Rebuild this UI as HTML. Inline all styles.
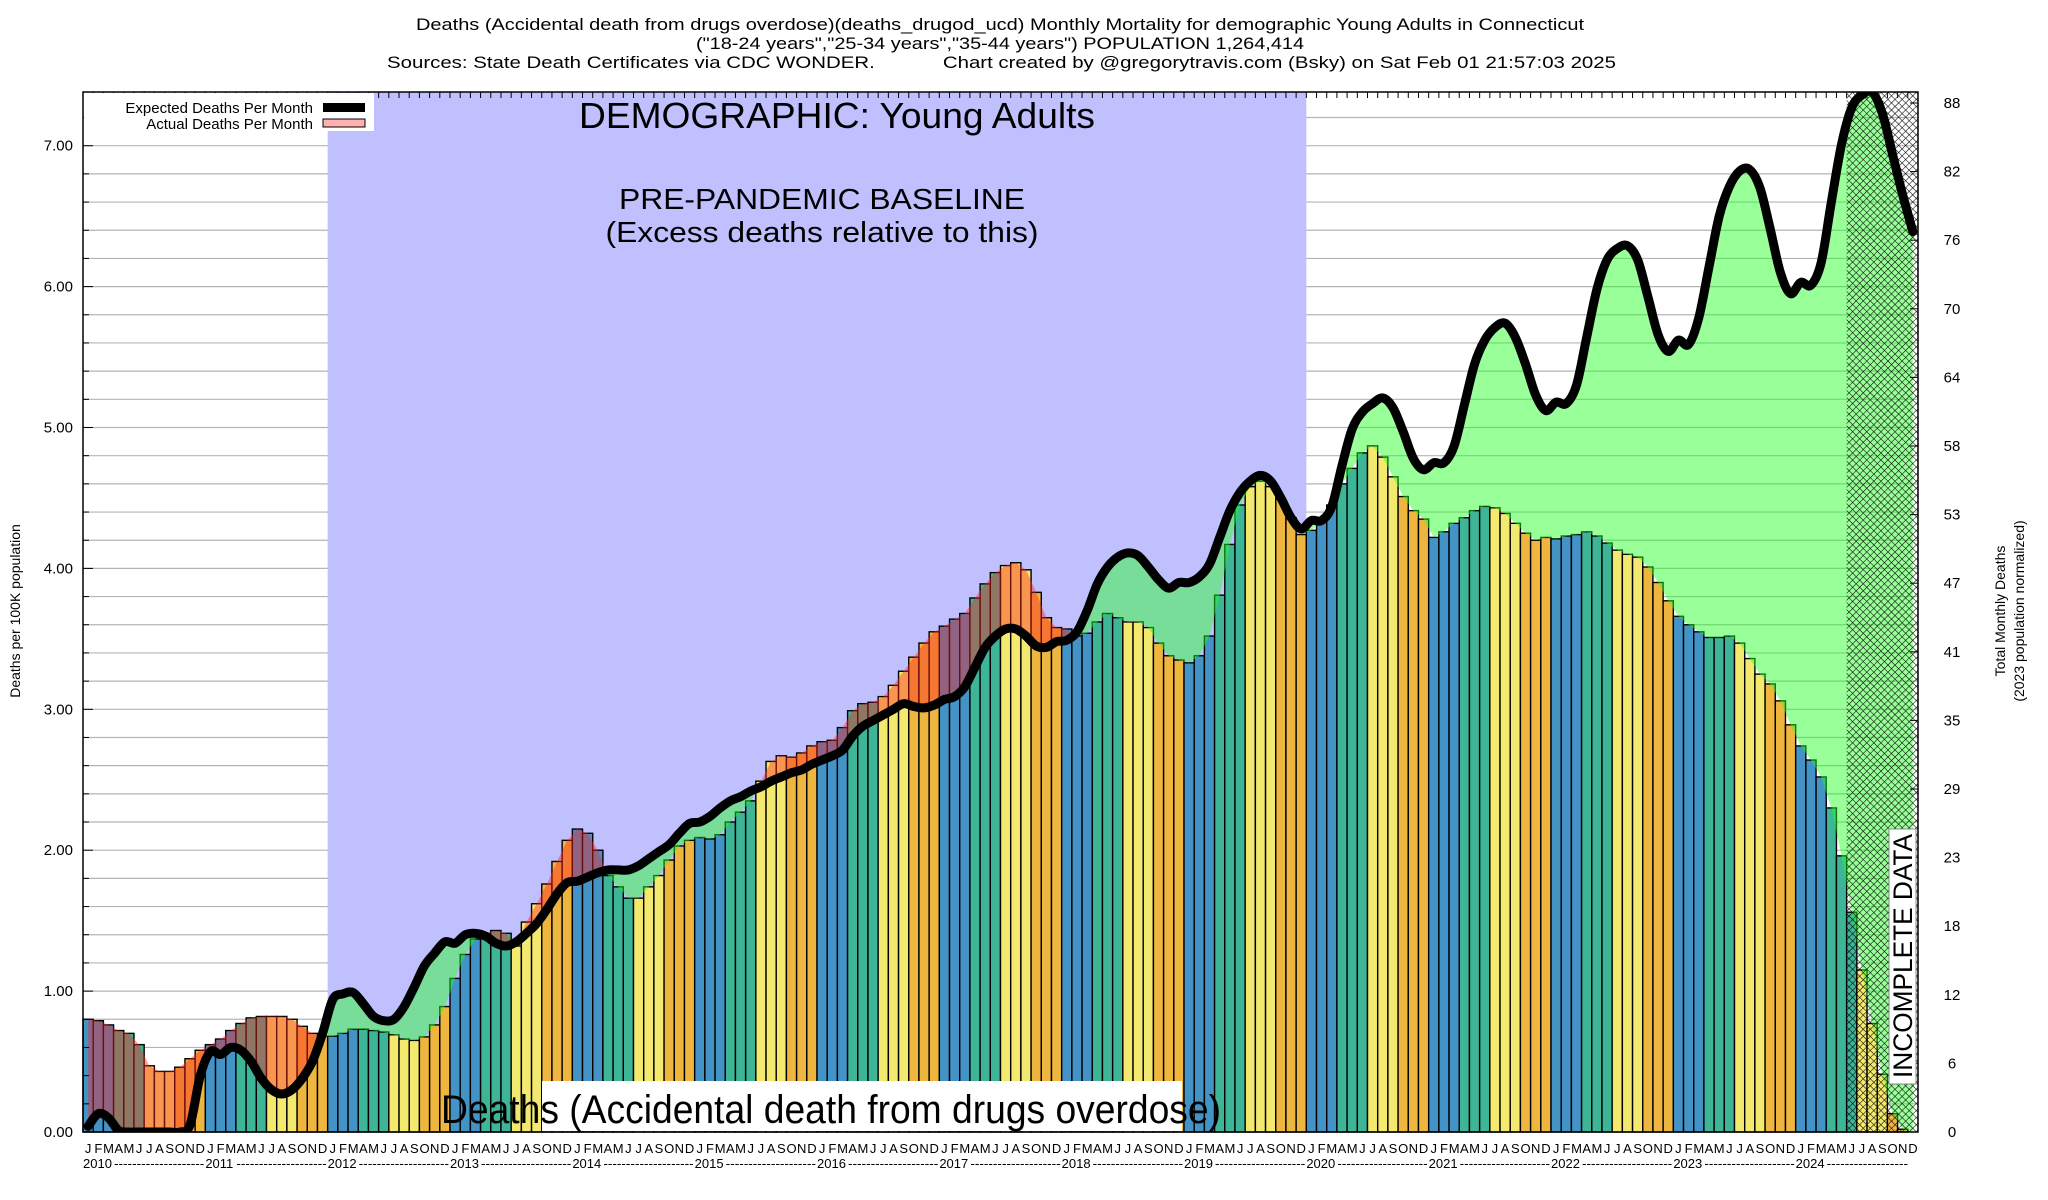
<!DOCTYPE html>
<html><head><meta charset="utf-8"><style>
html,body{margin:0;padding:0;background:#fff}
svg{display:block;font-family:"Liberation Sans",sans-serif}
</style></head><body>
<svg id="chart" width="2048" height="1200" viewBox="0 0 2048 1200" xmlns="http://www.w3.org/2000/svg">
<defs>
<pattern id="hatch" width="5" height="5" patternUnits="userSpaceOnUse" patternTransform="rotate(45)">
<line x1="0" y1="0" x2="0" y2="5" stroke="#000" stroke-width="1.1"/>
<line x1="0" y1="0" x2="5" y2="0" stroke="#000" stroke-width="1.1"/>
</pattern>
<clipPath id="plotclip"><rect x="83" y="92" width="1835" height="1040"/></clipPath>
<clipPath id="aboveActual"><path id="aboveActualPath"/></clipPath>
<clipPath id="aboveExpected"><path id="aboveExpectedPath"/></clipPath>
</defs>
<rect x="0" y="0" width="2048" height="1200" fill="#fff"/>
<g id="grid"></g>
<rect id="baseline" y="92" height="1040" fill="#c0c0ff"/>
<g id="bars"></g>
<g clip-path="url(#plotclip)">
<path id="greenFill" fill="rgb(33,255,33)" fill-opacity="0.46" clip-path="url(#aboveActual)"/>
<path id="redFill" fill="rgb(255,33,33)" fill-opacity="0.42" clip-path="url(#aboveExpected)"/>
<path id="expLine" fill="none" stroke="#000" stroke-width="9" stroke-linejoin="round" stroke-linecap="round"/>
</g>
<rect id="hatchRect" y="92" height="1040" fill="url(#hatch)"/>
<rect x="83" y="92" width="1835" height="1040" fill="none" stroke="#000" stroke-width="1.5"/>
<g id="ticks"></g>
<g id="xlabels" font-size="13" fill="#000"></g>
<g id="ylabels" font-size="15" fill="#000"></g>

<g>
<rect x="84" y="93" width="290" height="38" fill="#fff"/>
<text x="313" y="113" font-size="15" text-anchor="end">Expected Deaths Per Month</text>
<rect x="323" y="103" width="42" height="9" fill="#000"/>
<text x="313" y="129" font-size="15" text-anchor="end">Actual Deaths Per Month</text>
<rect x="323" y="119" width="42" height="8" fill="#ffb0b0" stroke="#000" stroke-width="1"/>
</g>

<text x="1000" y="30" font-size="17" text-anchor="middle" textLength="1168" lengthAdjust="spacingAndGlyphs">Deaths (Accidental death from drugs overdose)(deaths_drugod_ucd) Monthly Mortality for demographic Young Adults in Connecticut</text>
<text x="1000" y="49" font-size="17" text-anchor="middle" textLength="608" lengthAdjust="spacingAndGlyphs">("18-24 years","25-34 years","35-44 years") POPULATION 1,264,414</text>
<text x="387" y="68" font-size="17" textLength="1229" lengthAdjust="spacingAndGlyphs" xml:space="preserve">Sources: State Death Certificates via CDC WONDER.            Chart created by @gregorytravis.com (Bsky) on Sat Feb 01 21:57:03 2025</text>

<text x="837" y="128" font-size="36" text-anchor="middle" textLength="516" lengthAdjust="spacingAndGlyphs">DEMOGRAPHIC: Young Adults</text>
<text x="822" y="209" font-size="29" text-anchor="middle" textLength="406" lengthAdjust="spacingAndGlyphs">PRE-PANDEMIC BASELINE</text>
<text x="822" y="242" font-size="29" text-anchor="middle" textLength="433" lengthAdjust="spacingAndGlyphs">(Excess deaths relative to this)</text>

<rect x="542" y="1081" width="640" height="50" fill="#fff"/>
<text x="831" y="1123" font-size="40" text-anchor="middle" textLength="780" lengthAdjust="spacingAndGlyphs">Deaths (Accidental death from drugs overdose)</text>

<rect x="1889" y="829" width="27" height="255" fill="#fff" stroke="#888" stroke-width="1"/>
<text transform="translate(1912,956) rotate(-90)" font-size="27" text-anchor="middle" textLength="244" lengthAdjust="spacingAndGlyphs">INCOMPLETE DATA</text>

<text transform="translate(20,611) rotate(-90)" font-size="14" text-anchor="middle">Deaths per 100K population</text>
<text transform="translate(2005,611) rotate(-90)" font-size="14" text-anchor="middle">Total Monthly Deaths</text>
<text transform="translate(2024,611) rotate(-90)" font-size="14" text-anchor="middle">(2023 population normalized)</text>
</svg>
<script>
const years = [2010,2011,2012,2013,2014,2015,2016,2017,2018,2019,2020,2021,2022,2023,2024];
const monthLetters = ["J","F","M","A","M","J","J","A","S","O","N","D"];
const actualDeaths = [
0.80,0.79,0.76,0.72,0.70,0.62,0.47,0.43,0.43,0.46,0.52,0.58,
0.62,0.66,0.72,0.77,0.81,0.82,0.82,0.82,0.80,0.75,0.70,0.68,
0.68,0.70,0.73,0.73,0.72,0.71,0.69,0.66,0.65,0.675,0.76,0.89,
1.09,1.26,1.37,1.41,1.43,1.41,1.32,1.49,1.62,1.76,1.92,2.07,
2.15,2.12,2.00,1.82,1.74,1.66,1.66,1.74,1.82,1.93,2.03,2.07,
2.09,2.08,2.11,2.20,2.27,2.35,2.49,2.63,2.67,2.66,2.69,2.74,
2.77,2.78,2.87,2.99,3.04,3.05,3.09,3.17,3.27,3.37,3.47,3.55,
3.59,3.64,3.68,3.79,3.89,3.97,4.02,4.04,3.99,3.83,3.65,3.58,
3.57,3.52,3.54,3.62,3.68,3.65,3.62,3.62,3.58,3.47,3.38,3.35,
3.33,3.38,3.52,3.81,4.17,4.45,4.58,4.62,4.58,4.49,4.36,4.24,
4.27,4.34,4.45,4.60,4.71,4.82,4.87,4.79,4.65,4.51,4.41,4.35,
4.22,4.26,4.32,4.36,4.41,4.44,4.43,4.39,4.32,4.25,4.20,4.22,
4.21,4.23,4.24,4.26,4.23,4.18,4.13,4.10,4.08,4.01,3.90,3.77,
3.66,3.60,3.55,3.51,3.51,3.52,3.47,3.36,3.25,3.18,3.06,2.89,
2.74,2.64,2.52,2.30,1.96,1.56,1.15,0.77,0.41,0.13,0.02,0.00];
const expectedDeaths = [
0.04,0.13,0.10,0.01,0,0,0,0,0,0,0.05,0.40,
0.57,0.55,0.60,0.58,0.50,0.38,0.30,0.27,0.30,0.38,0.50,0.70,
0.94,0.98,0.99,0.91,0.82,0.79,0.80,0.89,1.03,1.18,1.27,1.35,
1.34,1.40,1.41,1.39,1.34,1.32,1.35,1.41,1.48,1.58,1.69,1.77,
1.78,1.81,1.84,1.86,1.86,1.86,1.89,1.94,1.99,2.04,2.12,2.19,
2.20,2.24,2.30,2.35,2.38,2.42,2.45,2.49,2.52,2.55,2.57,2.61,
2.64,2.67,2.71,2.81,2.88,2.92,2.96,3.00,3.04,3.02,3.01,3.03,
3.07,3.09,3.16,3.30,3.44,3.52,3.57,3.57,3.52,3.45,3.44,3.48,
3.49,3.55,3.70,3.89,4.01,4.08,4.11,4.09,4.01,3.92,3.86,3.90,
3.90,3.94,4.03,4.22,4.41,4.54,4.62,4.66,4.62,4.50,4.36,4.28,
4.34,4.34,4.44,4.73,4.99,5.11,5.17,5.21,5.14,4.97,4.78,4.70,
4.75,4.75,4.87,5.16,5.45,5.62,5.71,5.74,5.64,5.45,5.23,5.12,
5.18,5.17,5.30,5.64,5.98,6.19,6.27,6.29,6.19,5.93,5.66,5.54,
5.62,5.59,5.78,6.14,6.50,6.71,6.82,6.83,6.70,6.41,6.10,5.95,
6.03,6.01,6.17,6.60,7.01,7.27,7.36,7.38,7.23,6.94,6.65,6.39];
const leftTickLabels = ["0.00","1.00","2.00","3.00","4.00","5.00","6.00","7.00"];
const rightTickLabels = ["0","6","12","18","23","29","35","41","47","53","58","64","70","76","82","88"];
const baselineStartMonth = 24, baselineEndMonth = 120, incompleteStartMonth = 173;

const NS="http://www.w3.org/2000/svg";
const X0=83, X1=1918, Y0=1132, YT=92, N=actualDeaths.length;
const MW=(X1-X0)/N, PXU=140.9;
function xs(k){return X0+k*MW;}
function xc(k){return X0+(k+0.5)*MW;}
function ys(v){return Y0-v*PXU;}
function mk(tag,attrs,parent){const e=document.createElementNS(NS,tag);for(const a in attrs)e.setAttribute(a,attrs[a]);parent.appendChild(e);return e;}

const grid=document.getElementById('grid');
for(let g=1; g*0.2<=7.3; g++){
  const l=mk('line',{x1:X0,x2:X1,y1:ys(g*0.2),y2:ys(g*0.2),stroke:'#b4b4b4','stroke-width':1.2},grid);
  
  
}
const bl=document.getElementById('baseline');
bl.setAttribute('x',xs(baselineStartMonth));bl.setAttribute('width',xs(baselineEndMonth)-xs(baselineStartMonth));
const hr=document.getElementById('hatchRect');
hr.setAttribute('x',xs(incompleteStartMonth));hr.setAttribute('width',X1-xs(incompleteStartMonth));

const seasonColors=["#4393c6","#3db596","#f3e96e","#efb63f"];
const bars=document.getElementById('bars');
for(let k=0;k<N;k++){
  const v=actualDeaths[k];
  const r=mk('rect',{x:xs(k),y:ys(v),width:MW,height:Y0-ys(v),fill:seasonColors[Math.floor((k%12)/3)],stroke:'#000','stroke-width':1.4},bars);
  
  
}
function smooth(vals){
  const p=vals.map((v,k)=>[xc(k),ys(v)]);
  let d='M'+p[0][0]+','+p[0][1];
  for(let i=0;i<p.length-1;i++){
    const p0=p[Math.max(0,i-1)],p1=p[i],p2=p[i+1],p3=p[Math.min(p.length-1,i+2)];
    const c1=[p1[0]+(p2[0]-p0[0])/6,p1[1]+(p2[1]-p0[1])/6];
    const c2=[p2[0]-(p3[0]-p1[0])/6,p2[1]-(p3[1]-p1[1])/6];
    d+=' C'+c1[0]+','+c1[1]+' '+c2[0]+','+c2[1]+' '+p2[0]+','+p2[1];
  }
  return d;
}
const expD=smooth(expectedDeaths);
const actD='M'+actualDeaths.map((v,k)=>xc(k)+','+ys(v)).join(' L');
const xa=xc(0), xb=xc(N-1);
document.getElementById('expLine').setAttribute('d',expD);
document.getElementById('greenFill').setAttribute('d',expD+' L'+xb+','+Y0+' L'+xa+','+Y0+' Z');
document.getElementById('aboveActualPath').setAttribute('d',actD+' L'+xb+',0 L'+xa+',0 Z');
document.getElementById('redFill').setAttribute('d',actD+' L'+xb+','+Y0+' L'+xa+','+Y0+' Z');
document.getElementById('aboveExpectedPath').setAttribute('d',expD+' L'+xb+',0 L'+xa+',0 Z');

const ticks=document.getElementById('ticks');
for(let k=0;k<=N;k++){
  const t=mk('line',{x1:xs(k),x2:xs(k),y1:YT,y2:YT+6,stroke:'#000','stroke-width':1},ticks);
  
  
}
for(let g=0; g*0.2<=7.3; g++){
  const len=(g%5===0)?10:6;
  const t=mk('line',{x1:X0,x2:X0+len,y1:ys(g*0.2),y2:ys(g*0.2),stroke:'#000','stroke-width':1},ticks);
  
  
}
const ylab=document.getElementById('ylabels');
leftTickLabels.forEach((s,i)=>{
  const t=mk('text',{x:73,y:ys(i)+5,'text-anchor':'end'},ylab);t.textContent=s;
  
  
});
const rstep=(Y0-103)/(rightTickLabels.length-1);
rightTickLabels.forEach((s,i)=>{
  const y=Y0-i*rstep;
  const l=mk('line',{x1:X1-8,x2:X1,y1:y,y2:y,stroke:'#000','stroke-width':1},ticks);
  
  
  const t=mk('text',{x:1952,y:y+5,'text-anchor':'middle'},ylab);t.textContent=s;
  
  
});
const xl=document.getElementById('xlabels');
for(let k=0;k<N;k++){
  const t=mk('text',{x:xc(k),y:1153,'text-anchor':'middle'},xl);t.textContent=monthLetters[k%12];
  
  
}
years.forEach((yr,i)=>{
  const x=xs(i*12);
  const t=mk('text',{x:x,y:1168},xl);t.textContent=String(yr);
  
  
  const start=x+31, end=(i<years.length-1)?xs((i+1)*12)-1:X1-10;
  const dsh=mk('text',{x:start,y:1168,textLength:end-start,lengthAdjust:'spacingAndGlyphs'},xl);
  dsh.textContent='-'.repeat(Math.max(2,Math.round((end-start)/4.6)));
  
  
});
</script>
</body></html>
